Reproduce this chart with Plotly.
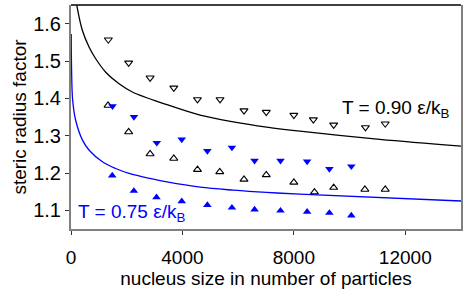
import plotly.graph_objects as go

# ---- data ----
# T = 0.90 : open triangles
t90_down_x = [1340, 2070, 2840, 3690, 4540, 5350, 6210, 7010, 8000, 8700, 9430, 10570, 11280]
t90_down_y = [1.557, 1.495, 1.455, 1.428, 1.397, 1.397, 1.367, 1.363, 1.355, 1.343, 1.329, 1.322, 1.332]
t90_up_x = [1330, 2070, 2840, 3690, 4540, 5340, 6210, 7010, 8000, 8740, 9430, 10550, 11280]
t90_up_y = [1.381, 1.310, 1.251, 1.239, 1.209, 1.203, 1.183, 1.195, 1.175, 1.149, 1.161, 1.156, 1.156]

# T = 0.75 : filled blue triangles
t75_down_x = [1490, 2260, 3080, 3975, 4895, 5777, 6590, 7520, 8476, 9275, 10063]
t75_down_y = [1.379, 1.350, 1.281, 1.290, 1.259, 1.268, 1.233, 1.233, 1.231, 1.211, 1.218]
t75_up_x = [1480, 2256, 3069, 3975, 4895, 5777, 6589, 7520, 8476, 9275, 10063]
t75_up_y = [1.193, 1.152, 1.135, 1.124, 1.114, 1.107, 1.102, 1.099, 1.096, 1.093, 1.086]

# theory curves
curve90_x = [208, 412, 652, 888, 1246, 1726, 2202, 3444, 4636, 5829, 7024, 8217, 11080, 14000]
curve90_y = [1.649, 1.581, 1.537, 1.506, 1.470, 1.439, 1.417, 1.383, 1.355, 1.337, 1.323, 1.312, 1.290, 1.272]
curve75_x = [8, 20, 60, 165, 412, 652, 1128, 1604, 2084, 2918, 3444, 4636, 5829, 7024, 8217, 14000]
curve75_y = [1.572, 1.48, 1.395, 1.342, 1.288, 1.261, 1.230, 1.212, 1.199, 1.184, 1.176, 1.162, 1.154, 1.148, 1.1435, 1.125]

x_ticks = [0, 4000, 8000, 12000]
y_ticks = [1.1, 1.2, 1.3, 1.4, 1.5, 1.6]

BLUE = "#0000ff"
FONT = "Liberation Sans, Arial, sans-serif"

fig = go.Figure()
fig.add_trace(go.Scatter(x=curve90_x, y=curve90_y, mode="lines",
                         line=dict(color="black", width=1.3, shape="spline", smoothing=1.0)))
fig.add_trace(go.Scatter(x=curve75_x, y=curve75_y, mode="lines",
                         line=dict(color=BLUE, width=1.3, shape="spline", smoothing=1.0)))
fig.add_trace(go.Scatter(x=t90_down_x, y=t90_down_y, mode="markers",
                         marker=dict(symbol="triangle-down-open", size=7, color="black",
                                     line=dict(width=1.1, color="black"))))
fig.add_trace(go.Scatter(x=t90_up_x, y=t90_up_y, mode="markers",
                         marker=dict(symbol="triangle-up-open", size=7, color="black",
                                     line=dict(width=1.1, color="black"))))
fig.add_trace(go.Scatter(x=t75_down_x, y=t75_down_y, mode="markers",
                         marker=dict(symbol="triangle-down", size=7.5, color=BLUE,
                                     line=dict(width=0))))
fig.add_trace(go.Scatter(x=t75_up_x, y=t75_up_y, mode="markers",
                         marker=dict(symbol="triangle-up", size=7.5, color=BLUE,
                                     line=dict(width=0))))

fig.add_annotation(x=9650, y=1.372, xref="x", yref="y", xanchor="left", yanchor="middle",
                   text="T = 0.90 ε/k<sub>B</sub>", showarrow=False,
                   font=dict(family=FONT, size=19, color="black"))
fig.add_annotation(x=180, y=1.093, xref="x", yref="y", xanchor="left", yanchor="middle",
                   text="T = 0.75 ε/k<sub>B</sub>", showarrow=False,
                   font=dict(family=FONT, size=19, color=BLUE))

fig.add_shape(type="line", xref="paper", yref="paper", x0=0, x1=1, y0=1, y1=1,
              line=dict(color="black", width=1.5))

fig.update_layout(
    width=469, height=295,
    margin=dict(l=70.5, r=7.5, t=4.5, b=65.5),
    paper_bgcolor="white", plot_bgcolor="white",
    showlegend=False,
    font=dict(family=FONT, size=19, color="black"),
    xaxis=dict(range=[0, 14000], tickvals=x_ticks, ticktext=[str(v) for v in x_ticks],
               automargin=False,
               showgrid=False, zeroline=False, showline=True, linecolor="#808080", linewidth=2,
               ticks="outside", ticklen=4, tickcolor="#333333", tickwidth=1,
               ticklabelstandoff=6,
               tickfont=dict(size=19),
               title=dict(text="nucleus size in number of particles", font=dict(size=19), standoff=0)),
    yaxis=dict(range=[1.05, 1.65], tickvals=y_ticks, ticktext=[f"{v:.1f}" for v in y_ticks],
               automargin=False,
               showgrid=False, zeroline=False, showline=True, linecolor="#808080", linewidth=2,
               mirror=True,
               ticks="outside", ticklen=4, tickcolor="#333333", tickwidth=1,
               tickfont=dict(size=20),
               title=dict(text="steric radius factor", font=dict(size=19), standoff=2)),
)

fig.write_html("out.html", config={"displayModeBar": False},
               post_script="document.body.style.margin='0px';document.body.style.overflow='hidden';")
